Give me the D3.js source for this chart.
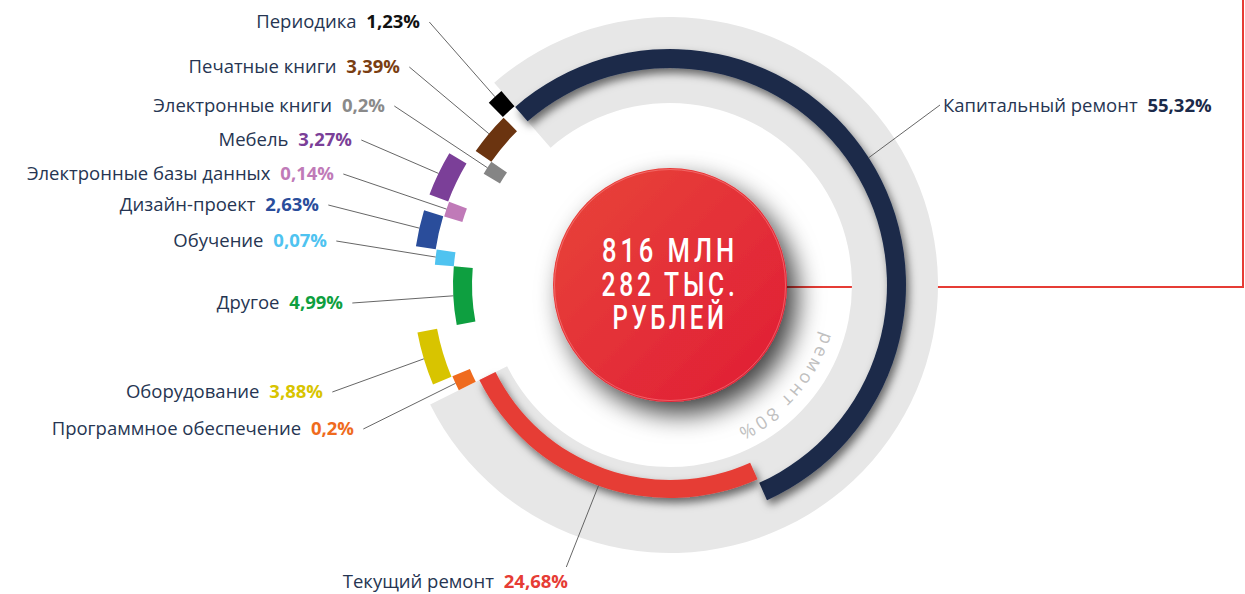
<!DOCTYPE html>
<html lang="ru">
<head>
    <meta charset="UTF-8">
    <title>Структура расходов</title>
    <script src="https://cdn.jsdelivr.net/npm/d3@7"></script>
    <style>
        * { margin: 0; padding: 0; }
        body { background: #fff; }
    </style>
</head>
<body>
    <script>
        // доли расходов, % (по часовой стрелке: сначала ремонт, потом мелкие статьи снизу вверх)
        const categories = ["Капитальный ремонт", "Текущий ремонт", "Программное обеспечение", "Оборудование",
            "Другое", "Обучение", "Дизайн-проект", "Электронные базы данных", "Мебель",
            "Электронные книги", "Печатные книги", "Периодика"];
        const shares = [55.32, 24.68, 0.2, 3.88, 4.99, 0.07, 2.63, 0.14, 3.27, 0.2, 3.39, 1.23];
        const colors = ["#1b2a4a", "#e63c35", "#ef6b1e", "#d8c400", "#0e9f40", "#4fc3f0", "#2a4d9b",
            "#c07ab8", "#7b3f98", "#858585", "#6b3410", "#000000"];
        const pctColors = ["#1b2a4a", "#e63c35", "#ef6b1e", "#d8c400", "#0e9f40", "#4fc3f0", "#2a4d9b",
            "#c07ab8", "#7b3f98", "#8a8a8a", "#7a3e12", "#111111"];
        // на каком кольце лежит сегмент (оформление)
        const rings = ["mid", "low", "mid", "outer", "inner", "mid", "outer", "mid", "outer", "inner", "mid", "outer"];
        // где стоит подпись: x, базовая линия, выравнивание, откуда идёт выноска
        const labelPos = [[943, 112, "start", "left"], [568, 588, "end", "top"], [354, 435, "end", "right"],
            [323, 398, "end", "right"], [343, 309, "end", "right"], [327, 247, "end", "right"],
            [319, 211, "end", "right"], [334, 180, "end", "right"], [352, 146, "end", "right"],
            [385, 112, "end", "right"], [400, 73, "end", "right"], [420, 28, "end", "right"]];
        const totalLines = ["816 МЛН", "282 ТЫС.", "РУБЛЕЙ"];
        const repairTotal = 80;
        const repairCaption = "ремонт 80%";

        const width = 1245;
        const height = 594;
        const cx = 670, cy = 285;
        const rad = (deg) => deg * Math.PI / 180;
        const ringR = { low: [195, 213], inner: [198, 217], mid: [217, 236], outer: [237, 257] };
        const fmt = (v) => String(v).replace(".", ",") + "%";

        const svg = d3.select("body").append("svg").attr("width", width).attr("height", height)
            .style("font-family", "'Open Sans', sans-serif");
        const defs = svg.append("defs");

        const arcShadow = defs.append("filter").attr("id", "arcShadow")
            .attr("x", "-20%").attr("y", "-20%").attr("width", "140%").attr("height", "140%");
        arcShadow.append("feDropShadow").attr("dx", 3).attr("dy", 5).attr("stdDeviation", 4)
            .attr("flood-color", "#000").attr("flood-opacity", 0.55);

        const ballShadow = defs.append("filter").attr("id", "ballShadow")
            .attr("x", "-40%").attr("y", "-40%").attr("width", "180%").attr("height", "180%");
        ballShadow.append("feDropShadow").attr("dx", 10).attr("dy", 12).attr("stdDeviation", 13)
            .attr("flood-color", "#000").attr("flood-opacity", 0.75);

        const grad = defs.append("linearGradient").attr("id", "ballFill")
            .attr("x1", "0%").attr("y1", "0%").attr("x2", "100%").attr("y2", "100%");
        grad.append("stop").attr("offset", "0%").attr("stop-color", "#e8453a");
        grad.append("stop").attr("offset", "100%").attr("stop-color", "#e01c35");

        // красная линия к правому краю
        svg.append("path")
            .attr("d", `M${cx},287H1243V0`)
            .attr("fill", "none").attr("stroke", "#e63c35").attr("stroke-width", 2);

        const g = svg.append("g").attr("transform", `translate(${cx},${cy})`);
        const arc = d3.arc();

        // углы
        const bigAngle = d3.scaleLinear().domain([0, repairTotal]).range([rad(-41), rad(243.5)]);
        const minShare = 1.2;
        const shown = shares.map((v, i) => i < 2 ? v : Math.max(v, minShare));
        const smallAngle = d3.scaleLinear().domain([0, d3.sum(shown.slice(2))]).range([rad(243.5), rad(319)]);

        let accBig = 0, accSmall = 0;
        const segs = categories.map((name, i) => {
            let a0, a1;
            if (i < 2) {
                a0 = bigAngle(accBig); accBig += shares[i]; a1 = bigAngle(accBig);
            } else {
                a0 = smallAngle(accSmall); accSmall += shown[i]; a1 = smallAngle(accSmall);
            }
            const [r0, r1] = ringR[rings[i]];
            return { name, value: shares[i], color: colors[i], pct: pctColors[i], i,
                startAngle: a0, endAngle: a1, innerRadius: r0, outerRadius: r1 };
        });

        // серая подложка ремонта
        g.append("path")
            .attr("d", arc({ innerRadius: 182, outerRadius: 268, startAngle: bigAngle(0), endAngle: bigAngle(repairTotal) }))
            .attr("fill", "#e7e7e7");

        // подпись по дуге
        const capPath = d3.path();
        capPath.arc(0, 0, 159, rad(107 - 90), rad(175 - 90));
        defs.append("path").attr("id", "capPath").attr("d", capPath.toString());

        // большие дуги с тенью
        g.selectAll("path.big")
            .data(segs.slice(0, 2))
            .join("path")
            .attr("class", "big")
            .attr("d", arc)
            .attr("fill", (d) => d.color)
            .attr("filter", "url(#arcShadow)");

        // мелкие сегменты
        g.selectAll("path.small")
            .data(segs.slice(2))
            .join("path")
            .attr("class", "small")
            .attr("d", arc)
            .attr("fill", (d) => d.color);

        // подписи
        const labels = svg.append("g").selectAll("text")
            .data(segs)
            .join("text")
            .attr("x", (d) => labelPos[d.i][0])
            .attr("y", (d) => labelPos[d.i][1])
            .attr("text-anchor", (d) => labelPos[d.i][2])
            .attr("font-size", 18.5);
        labels.append("tspan").attr("fill", "#263552").text((d) => d.name + " ");
        labels.append("tspan").attr("dx", 5).attr("font-weight", 700).attr("fill", (d) => d.pct)
            .text((d) => fmt(d.value));

        // выноски
        labels.each(function (d) {
            const b = this.getBBox();
            const side = labelPos[d.i][3];
            const y = labelPos[d.i][1];
            let s;
            if (side === "right") s = [b.x + b.width + 9, y - 6];
            else if (side === "left") s = [b.x - 3, y - 7];
            else s = [b.x + b.width - 2, y - 21];
            const mid = (d.startAngle + d.endAngle) / 2;
            const p = d3.pointRadial(mid, d.outerRadius);
            svg.append("line")
                .attr("x1", s[0]).attr("y1", s[1])
                .attr("x2", cx + p[0]).attr("y2", cy + p[1])
                .attr("stroke", "#555").attr("stroke-width", 0.9);
        });

        // центральный круг
        const ball = svg.append("g").attr("transform", `translate(${cx},${cy})`);
        ball.append("circle").attr("r", 117).attr("fill", "url(#ballFill)").attr("filter", "url(#ballShadow)");
        ball.append("circle").attr("r", 115.5).attr("fill", "none")
            .attr("stroke", "#ff9a9a").attr("stroke-opacity", 0.6).attr("stroke-width", 0.8);

        const widths = [136, 137, 115];
        ball.selectAll("text.total")
            .data(totalLines)
            .join("text")
            .attr("class", "total")
            .attr("x", 0)
            .attr("y", (d, i) => -23 + i * 33.5)
            .attr("text-anchor", "middle")
            .attr("font-family", "Roboto, sans-serif")
            .attr("font-weight", 500)
            .attr("font-size", 33)
            .attr("letter-spacing", 5)
            .attr("fill", "#fff")
            .attr("textLength", (d, i) => widths[i])
            .attr("lengthAdjust", "spacingAndGlyphs")
            .text((d) => d);

        g.append("text")
            .attr("font-size", 18)
            .attr("letter-spacing", 3)
            .attr("fill", "#c0c0c0")
            .append("textPath")
            .attr("href", "#capPath")
            .text(repairCaption);
    </script>
</body>
</html>
